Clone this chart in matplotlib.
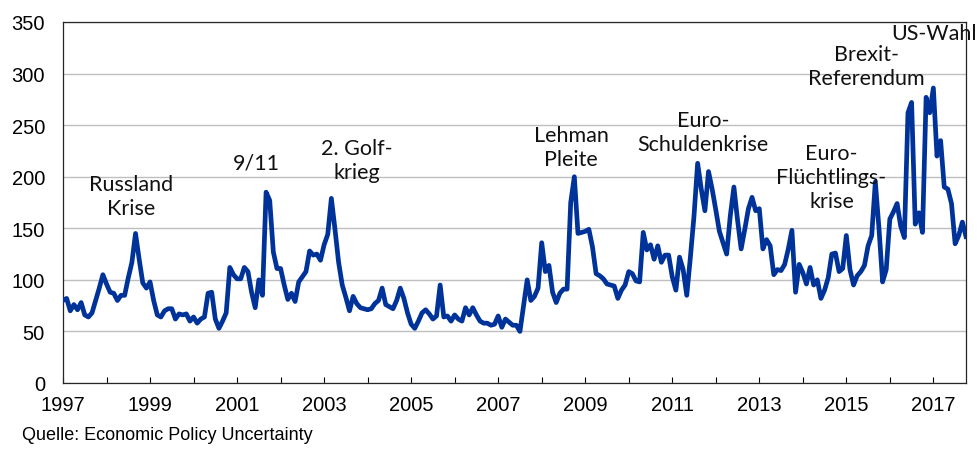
import numpy as np
import matplotlib
matplotlib.use("Agg")
import matplotlib.pyplot as plt

# monthly index values, Jan 1997 .. Oct 2017
values_by_year = {
    1997: [80, 82, 70, 76, 71, 78, 66, 64, 68, 80, 92, 105],
    1998: [96, 88, 87, 80, 85, 85, 102, 117, 145, 120, 97, 92],
    1999: [98, 80, 66, 64, 70, 72, 72, 62, 67, 66, 67, 60],
    2000: [64, 58, 62, 64, 87, 88, 62, 53, 60, 68, 112, 105],
    2001: [101, 101, 112, 108, 88, 73, 100, 85, 185, 177, 127, 111],
    2002: [111, 95, 81, 87, 79, 98, 103, 108, 128, 124, 125, 119],
    2003: [134, 144, 179, 149, 117, 95, 83, 70, 84, 77, 73, 72],
    2004: [71, 72, 77, 80, 92, 76, 74, 72, 80, 92, 82, 68],
    2005: [57, 53, 60, 68, 71, 67, 62, 65, 95, 64, 65, 60],
    2006: [66, 62, 60, 73, 66, 73, 66, 60, 58, 58, 56, 57],
    2007: [65, 54, 62, 59, 56, 56, 50, 75, 100, 80, 84, 92],
    2008: [136, 108, 114, 88, 78, 87, 91, 91, 175, 200, 145, 146],
    2009: [147, 149, 132, 106, 104, 101, 96, 95, 94, 82, 90, 95],
    2010: [108, 106, 99, 98, 146, 129, 134, 120, 133, 117, 124, 124],
    2011: [103, 90, 122, 110, 85, 122, 162, 213, 188, 167, 205, 188],
    2012: [168, 147, 136, 125, 162, 190, 158, 130, 149, 169, 180, 167],
    2013: [169, 130, 139, 133, 105, 110, 109, 115, 130, 148, 88, 115],
    2014: [107, 96, 112, 95, 100, 82, 90, 102, 125, 126, 108, 111],
    2015: [143, 110, 95, 104, 108, 114, 133, 143, 195, 150, 98, 110],
    2016: [159, 166, 174, 152, 141, 262, 272, 154, 165, 146, 277, 262],
    2017: [286, 220, 235, 190, 188, 174, 135, 143, 156, 142],
}

events = ["Russland\nKrise", "9/11", "2. Golf-\nkrieg", "Lehman\nPleite",
          "Euro-\nSchuldenkrise", "Euro-\nFlüchtlings-\nkrise",
          "Brexit-\nReferendum", "US-Wahl"]
event_x = [1998.56, 2001.44, 2003.76, 2008.68, 2011.71, 2014.66, 2015.46, 2017.02]
event_y = [181, 214, 216, 229, 243, 200, 307, 339]

years = []
vals = []
for yr, row in values_by_year.items():
    for i, v in enumerate(row):
        years.append(yr + i / 12)
        vals.append(v)

fig = plt.figure(figsize=(9.77, 4.56), dpi=100)
ax = fig.add_axes([63 / 977, 1 - 384 / 456, (966 - 63) / 977, (384 - 23) / 456])

ax.plot(years, vals, color="#003399", lw=3.4, solid_joinstyle="round", zorder=3)

ax.set_xlim(1997, years[-1])
ax.set_ylim(0, 350)
ax.set_yticks(range(0, 351, 50))
ax.set_xticks(range(1997, 2018))
ax.set_xticklabels([str(y) if (y - 1997) % 2 == 0 else "" for y in range(1997, 2018)])
ax.yaxis.grid(True, color="#bfbfbf", lw=1.0)
ax.set_axisbelow(True)

for lbl in ax.get_xticklabels() + ax.get_yticklabels():
    lbl.set_family("Liberation Sans")
    lbl.set_fontsize(14.5)
ax.tick_params(axis="x", direction="in", length=4, width=0.8, pad=9)
ax.tick_params(axis="y", length=0, pad=13)
for s in ax.spines.values():
    s.set_color("#262626")
    s.set_linewidth(0.9)

for txt, x, y in zip(events, event_x, event_y):
    ax.text(x, y, txt, ha="center", va="center", fontsize=15.5, family="Lato",
            linespacing=1.25, color="#111111", clip_on=False)

fig.text(22 / 977, 1 - 436 / 456, "Quelle: Economic Policy Uncertainty",
         family="Liberation Sans", fontsize=13, va="center", ha="left")

fig.savefig("out.png", dpi=100)
